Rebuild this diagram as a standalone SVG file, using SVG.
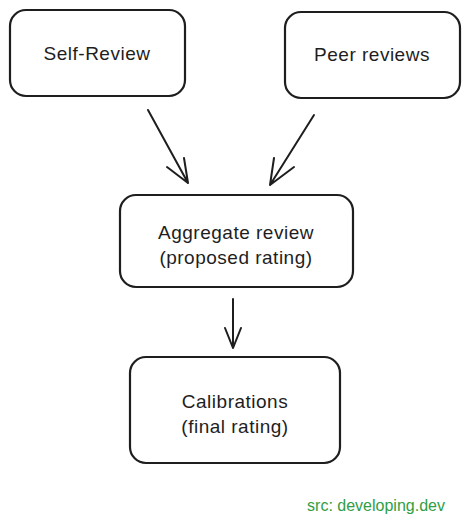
<svg xmlns="http://www.w3.org/2000/svg" width="470" height="524" viewBox="0 0 470 524">
<style>
.box{fill:#fff;stroke:#1e1e1e;stroke-width:2.2}
.t{font-family:"Liberation Sans",Arial,sans-serif;font-size:19px;letter-spacing:0.5px;fill:#1e1e1e;text-anchor:middle}
.c{stroke:#1e1e1e;stroke-width:2;fill:none;stroke-linecap:round}
.src{font-family:"Liberation Sans",Arial,sans-serif;font-size:16px;fill:#2f9e44;text-anchor:middle}
</style>
<rect width="470" height="524" fill="#fff"/>
<g id="self-review"><rect class="box" x="10" y="10" width="175" height="86" rx="16"/><text class="t" x="97" y="60">Self-Review</text></g>
<g id="peer-reviews"><rect class="box" x="285" y="12" width="175" height="86" rx="16"/><text class="t" x="372" y="61">Peer reviews</text></g>
<g id="aggregate"><rect class="box" x="120" y="195" width="233" height="92" rx="16"/><text class="t" x="236" y="239">Aggregate review</text><text class="t" x="236" y="264">(proposed rating)</text></g>
<g id="calibrations"><rect class="box" x="130" y="357" width="210" height="106" rx="16"/><text class="t" x="235" y="408">Calibrations</text><text class="t" x="235" y="433">(final rating)</text></g>
<g id="connectors">
<path class="c" d="M148 110 L188 183 M188 183 L167 167 M188 183 L184 158"/>
<path class="c" d="M314 115 L270 185 M270 185 L274 158 M270 185 L294 167"/>
<path class="c" d="M233 299 L233 348 M233 348 L225 328 M233 348 L241 328"/>
</g>
<text class="src" x="376" y="511">src: developing.dev</text>
</svg>
